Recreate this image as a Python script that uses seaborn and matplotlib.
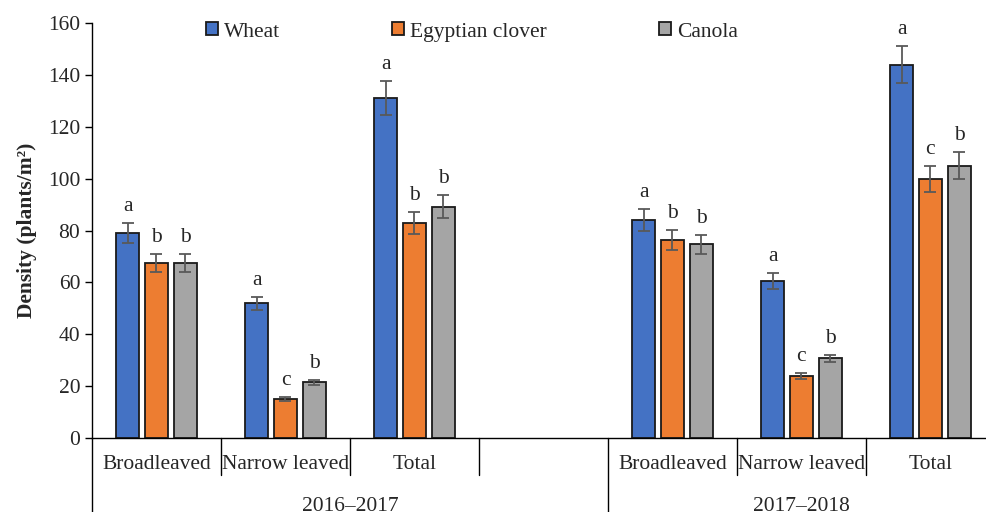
import numpy as np
import pandas as pd
import matplotlib
matplotlib.use("Agg")
import matplotlib.pyplot as plt
import matplotlib.transforms as mtransforms
import seaborn as sns

# ── Data ────────────────────────────────────────────────
slots = ["BL1", "NL1", "T1", "gap", "BL2", "NL2", "T2"]
slot_labels = ["Broadleaved", "Narrow leaved", "Total", "",
               "Broadleaved", "Narrow leaved", "Total"]
years = ["2016\u20132017", "2017\u20132018"]
crops = ["Wheat", "Egyptian clover", "Canola"]
colors = ["#4472C4", "#ED7D31", "#A5A5A5"]

data_slots = ["BL1", "NL1", "T1", "BL2", "NL2", "T2"]
wheat = [79.0, 52.0, 131.0, 84.0, 60.5, 144.0]
clover = [67.6, 15.0, 82.8, 76.3, 23.9, 99.8]
canola = [67.6, 21.5, 89.2, 74.7, 30.7, 105.0]

wheat_se = [4.0, 2.5, 6.5, 4.2, 3.0, 7.2]
clover_se = [3.5, 0.7, 4.3, 4.0, 1.2, 5.0]
canola_se = [3.5, 1.0, 4.5, 3.6, 1.5, 5.3]

wheat_lt = ["a", "a", "a", "a", "a", "a"]
clover_lt = ["b", "c", "b", "b", "c", "c"]
canola_lt = ["b", "b", "b", "b", "b", "b"]

# ── Build long table ────────────────────────────────────
df = pd.DataFrame({
    "slot": data_slots * 3,
    "crop": np.repeat(crops, len(data_slots)),
    "density": wheat + clover + canola,
})
errs = {"Wheat": wheat_se, "Egyptian clover": clover_se, "Canola": canola_se}
letters = {"Wheat": wheat_lt, "Egyptian clover": clover_lt, "Canola": canola_lt}

FS = 15.5

sns.set_theme(style="white")
plt.rcParams["font.family"] = ["Liberation Serif", "DejaVu Serif"]

fig = plt.figure(figsize=(9.86, 5.12), dpi=100)
ax = fig.add_axes([0.0933, 0.1445, 1.009 - 0.0933, 0.8105])

sns.barplot(data=df, x="slot", y="density", hue="crop", order=slots,
            hue_order=crops, palette=colors, width=0.667, gap=0.2,
            edgecolor="#1a1a1a", linewidth=1.3, errorbar=None, ax=ax,
            saturation=1)

# error bars + letters
for cont, crop in zip(ax.containers, crops):
    bars = sorted(cont.patches, key=lambda p: p.get_x())
    for p, e, lt in zip(bars, errs[crop], letters[crop]):
        xc = p.get_x() + p.get_width() / 2
        h = p.get_height()
        ax.errorbar(xc, h, yerr=e, color="#595959", capsize=4,
                    elinewidth=1.3, capthick=1.3)
        ax.annotate(lt, (xc, h + e), xytext=(0, 5), textcoords="offset points",
                    ha="center", va="bottom", fontsize=FS)

ax.set_ylim(0, 160)
ax.set_xlim(-0.5, 6.5)
ax.set_yticks(np.arange(0, 161, 20))
ax.set_xticks(range(len(slots)))
ax.set_xticklabels(slot_labels)
ax.tick_params(axis="x", length=0, pad=12, labelsize=FS)
ax.tick_params(axis="y", length=5, width=1, labelsize=FS, left=True, color="black")
ax.set_xlabel("")
ax.set_ylabel("Density (plants/m\u00b2)", fontsize=FS, fontweight="bold", labelpad=8)
for s in ["top", "right"]:
    ax.spines[s].set_visible(False)
for s in ["left", "bottom"]:
    ax.spines[s].set_color("black")
    ax.spines[s].set_linewidth(1.0)

# category separators below the axis
trans = mtransforms.blended_transform_factory(ax.transData, ax.transAxes)
for xb in [0.5, 1.5, 2.5, 4.5, 5.5]:
    ax.plot([xb, xb], [0, -0.09], transform=trans, color="black", lw=1, clip_on=False)
for xb in [-0.5, 3.5, 6.5]:
    ax.plot([xb, xb], [0, -0.25], transform=trans, color="black", lw=1, clip_on=False)

ax.text(1.5, -0.165, years[0], transform=trans, ha="center", va="center", fontsize=FS)
ax.text(5.0, -0.165, years[1], transform=trans, ha="center", va="center", fontsize=FS)

# legend
handles, labels = ax.get_legend_handles_labels()
ax.legend(handles, labels, ncol=3, frameon=False, loc="center",
          bbox_to_anchor=(472 / 986, 1 - 32 / 512), bbox_transform=fig.transFigure,
          fontsize=FS, handlelength=0.55, handleheight=0.55, handletextpad=0.3,
          columnspacing=5.2)

fig.savefig("out.png", dpi=100)
